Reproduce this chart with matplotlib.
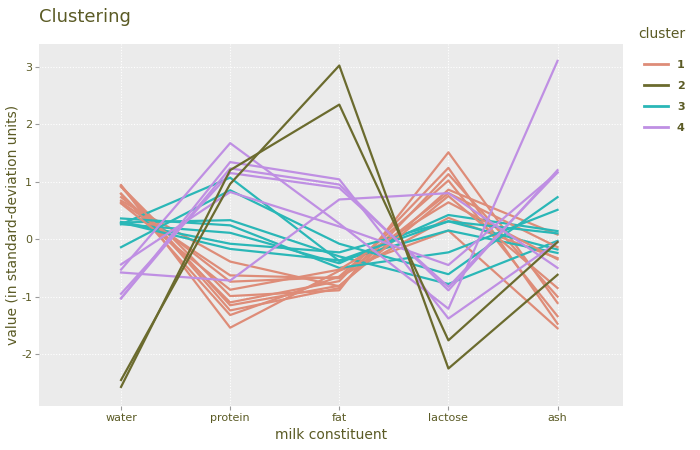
import matplotlib
matplotlib.use("Agg")
import matplotlib.pyplot as plt
from matplotlib.lines import Line2D

constituents = ["water", "protein", "fat", "lactose", "ash"]
clusters = [1,1,1,1,1,1,1,3,3,3,3,1,1,3,1,3,3,4,4,4,4,4,4,2,2]
water   = [0.92,0.79,0.79,0.93,0.94,0.73,0.67,0.30,0.29,0.26,0.26,0.64,0.91,0.36,0.62,0.29,-0.14,-0.58,-0.53,-0.44,-0.95,-1.03,-1.03,-2.45,-2.57]
protein = [-0.99,-1.32,-1.10,-1.24,-1.54,-0.74,-0.39,-0.08,0.33,1.07,0.11,-0.63,-1.15,0.24,-0.88,-0.17,0.85,-0.72,1.67,0.82,1.15,1.23,1.34,0.96,1.20]
fat     = [-0.89,-0.65,-0.73,-0.85,-0.55,-0.66,-0.82,-0.23,-0.30,-0.38,-0.42,-0.68,-0.81,-0.50,-0.53,-0.37,-0.08,0.69,0.27,0.22,0.89,0.95,1.04,3.02,2.34]
lactose = [1.51,1.02,1.24,1.13,0.15,0.37,0.86,0.31,-0.78,0.15,0.42,0.80,0.75,-0.23,0.64,0.31,-0.61,0.80,-1.21,-0.45,-0.83,-0.89,-1.38,-2.25,-1.76]
ash     = [-1.11,-1.34,-1.47,-1.00,-1.55,-0.33,0.08,-0.18,-0.03,-0.24,0.14,-0.14,-0.85,0.51,-0.35,0.10,0.73,-0.50,3.10,1.16,1.16,1.20,-0.05,-0.62,-0.05]

colors = {1: "#de8c78", 2: "#6b6b2e", 3: "#2ab7b7", 4: "#bf8fe3"}
txt = "#5b5b25"

fig = plt.figure(figsize=(7, 4.5), dpi=100)
ax = fig.add_axes([0.056, 0.098, 0.834, 0.805])
ax.set_facecolor("#ebebeb")
xs = range(len(constituents))
for i, c in enumerate(clusters):
    ys = [water[i], protein[i], fat[i], lactose[i], ash[i]]
    ax.plot(xs, ys, color=colors[c], lw=1.6, zorder=3 if c != 2 else 4)
ax.set_xlim(-0.75, 4.6)
ax.set_ylim(-2.9, 3.4)
ax.set_xticks(list(xs))
ax.set_xticklabels(constituents)
ax.set_yticks([-2, -1, 0, 1, 2, 3])
ax.set_yticklabels(["-2", "-1", "0", "1", "2", "3"])
ax.grid(True, color="white", ls=(0, (1, 1.5)), lw=0.8)
ax.set_axisbelow(True)
for s in ax.spines.values():
    s.set_visible(False)
ax.tick_params(axis="both", colors="#9a9a9a", labelcolor=txt, labelsize=8, length=3, pad=2)
ax.set_xlabel("milk constituent", color=txt, fontsize=10)
ax.set_ylabel("value (in standard-deviation units)", color=txt, fontsize=10, labelpad=1)
fig.text(0.056, 0.95, "Clustering", color=txt, fontsize=13)
fig.text(0.912, 0.915, "cluster", color=txt, fontsize=10)
handles = [Line2D([0], [0], color=colors[k], lw=2) for k in [1, 2, 3, 4]]
leg = fig.legend(handles, ["1", "2", "3", "4"], loc="upper left",
                 bbox_to_anchor=(0.905, 0.89), frameon=False, fontsize=8,
                 handlelength=2.2, labelspacing=1.0)
for t in leg.get_texts():
    t.set_color(txt)
    t.set_fontweight("bold")
fig.savefig("out.png", dpi=100)
